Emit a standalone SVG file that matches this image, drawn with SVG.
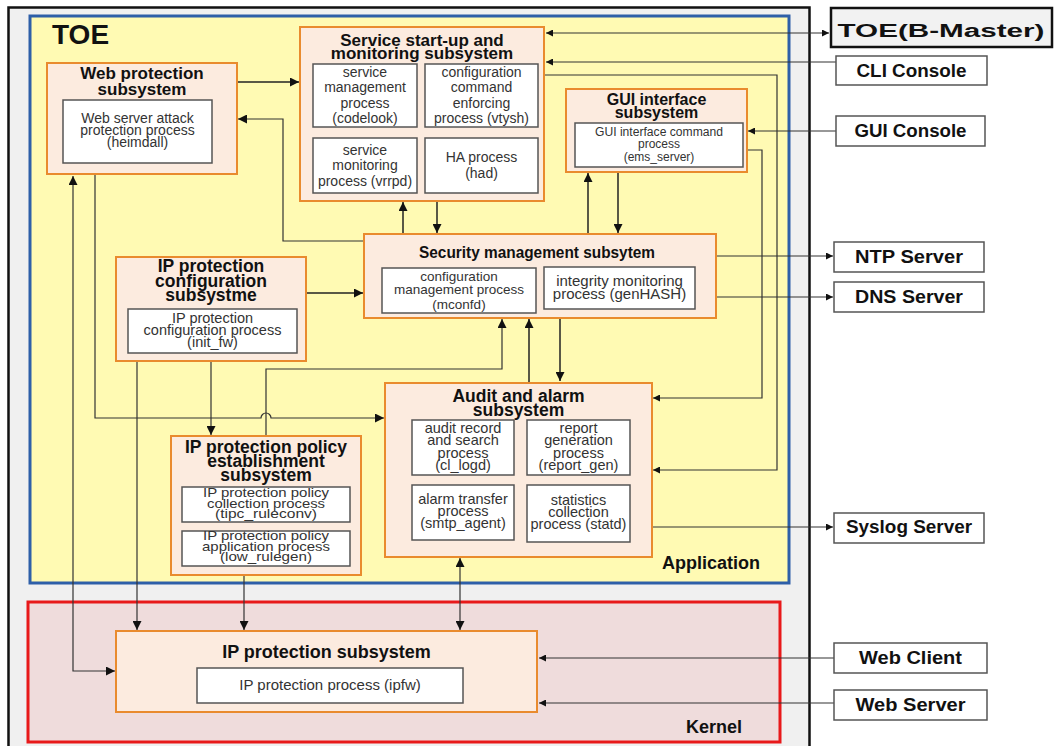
<svg xmlns="http://www.w3.org/2000/svg" width="1058" height="746" viewBox="0 0 1058 746">
<defs>
<style>
.node{fill:#fcebdf;stroke:#e98b2e;stroke-width:2}
.inner{fill:#fff;stroke:#555;stroke-width:1.5}
.ext{fill:#fff;stroke:#555;stroke-width:1.5}
.t{font-family:"Liberation Sans",Arial,sans-serif;font-weight:bold;fill:#111;text-anchor:middle}
.p{font-family:"Liberation Sans",Arial,sans-serif;fill:#333;text-anchor:middle}
.e{font-family:"Liberation Sans",Arial,sans-serif;font-weight:bold;fill:#111;text-anchor:middle;font-size:18px}
.lbl{font-family:"Liberation Sans",Arial,sans-serif;font-weight:bold;fill:#111}
.c{fill:none;stroke:#222;stroke-width:1.5}
.cx{fill:none;stroke:#333;stroke-width:1.2}
</style>
<marker id="ah" viewBox="0 0 10 10" refX="10" refY="5" markerWidth="11" markerHeight="9" markerUnits="userSpaceOnUse" orient="auto-start-reverse"><path d="M0,0 L10,5 L0,10 z" fill="#111"/></marker>
<marker id="as" viewBox="0 0 10 10" refX="10" refY="5" markerWidth="9" markerHeight="7" markerUnits="userSpaceOnUse" orient="auto-start-reverse"><path d="M0,0 L10,5 L0,10 z" fill="#111"/></marker>
</defs>
<rect width="1058" height="746" fill="#fff"/>
<g id="toe-frame">
<rect x="8.5" y="7.5" width="801" height="750" fill="#f0f0f0" stroke="#111" stroke-width="2.5"/>
<rect x="30" y="16" width="759" height="567" fill="#fffab3" stroke="#2e5fa8" stroke-width="3"/>
<rect x="28" y="602" width="752" height="140" fill="#efdcdc" stroke="#e8191a" stroke-width="3"/>
<text class="lbl" x="52" y="44" font-size="28">TOE</text>
<text class="lbl" x="662" y="569" font-size="18">Application</text>
<text class="lbl" x="686" y="733" font-size="18">Kernel</text>
</g>
<g id="connectors">
<path class="cx" d="M546,33 H829" marker-start="url(#as)" marker-end="url(#as)"/>
<path class="cx" d="M836,62 H546" marker-end="url(#as)"/>
<path class="cx" d="M544,75 H777 V470 H653" marker-end="url(#as)"/>
<path class="cx" d="M747,150 H762 V398 H653" marker-end="url(#as)"/>
<path class="cx" d="M836,131 H748" marker-end="url(#as)"/>
<path class="c" d="M237,82 H299" marker-end="url(#ah)"/>
<path class="cx" d="M364,241 H283 V119 H238" marker-end="url(#ah)"/>
<path class="c" d="M403,234 V202" marker-end="url(#ah)"/>
<path class="c" d="M437,202 V233" marker-end="url(#ah)"/>
<path class="c" d="M588,234 V173" marker-end="url(#ah)"/>
<path class="c" d="M618,172 V233" marker-end="url(#ah)"/>
<path class="cx" d="M716,256 H833" marker-end="url(#as)"/>
<path class="cx" d="M716,297 H833" marker-end="url(#as)"/>
<path class="c" d="M560,318 V381" marker-end="url(#ah)"/>
<path class="c" d="M529,383 V319" marker-end="url(#ah)"/>
<path class="cx" d="M266,436 V369 H502 V319" marker-end="url(#ah)"/>
<path class="c" d="M307,293 H363" marker-end="url(#ah)"/>
<path class="cx" d="M95,175 V418 H261 A5,5 0 0 1 271,418 H384" marker-end="url(#ah)"/>
<path class="cx" d="M73,176 V671 H115" marker-start="url(#ah)" marker-end="url(#ah)"/>
<path class="cx" d="M137,361 V630" marker-end="url(#ah)"/>
<path class="cx" d="M211,361 V435" marker-end="url(#ah)"/>
<path class="cx" d="M244,575 V630" marker-end="url(#ah)"/>
<path class="cx" d="M460,558 V630" marker-start="url(#ah)" marker-end="url(#ah)"/>
<path class="cx" d="M652,527 H833" marker-end="url(#as)"/>
<path class="cx" d="M834,658 H539" marker-end="url(#as)"/>
<path class="cx" d="M834,703 H539" marker-end="url(#as)"/>
</g>
<g id="web-protection">
<rect class="node" x="47" y="63" width="190" height="111"/>
<text class="t" x="142" y="79" font-size="17">Web protection</text>
<text class="t" x="142" y="95" font-size="17">subsystem</text>
<rect class="inner" x="63" y="100" width="149" height="63"/>
<text class="p" x="137.5" y="123" font-size="14">Web server attack</text>
<text class="p" x="137.5" y="135" font-size="14">protection process</text>
<text class="p" x="137.5" y="147" font-size="14">(heimdall)</text>
</g>
<g id="service-startup">
<rect class="node" x="300" y="27" width="244" height="174"/>
<text class="t" x="422" y="46" font-size="17">Service start-up and</text>
<text class="t" x="422" y="59" font-size="17">monitoring subsystem</text>
<rect class="inner" x="313" y="64" width="104" height="63"/>
<text class="p" x="365" y="77" font-size="14">service</text>
<text class="p" x="365" y="92" font-size="14">management</text>
<text class="p" x="365" y="108" font-size="14">process</text>
<text class="p" x="365" y="123" font-size="14">(codelook)</text>
<rect class="inner" x="425" y="64" width="113" height="63"/>
<text class="p" x="481.5" y="77" font-size="14">configuration</text>
<text class="p" x="481.5" y="92" font-size="14">command</text>
<text class="p" x="481.5" y="108" font-size="14">enforcing</text>
<text class="p" x="481.5" y="123" font-size="14">process (vtysh)</text>
<rect class="inner" x="313" y="138" width="104" height="55"/>
<text class="p" x="365" y="155" font-size="14">service</text>
<text class="p" x="365" y="170" font-size="14">monitoring</text>
<text class="p" x="365" y="186" font-size="14">process (vrrpd)</text>
<rect class="inner" x="425" y="138" width="113" height="55"/>
<text class="p" x="481.5" y="162" font-size="14">HA process</text>
<text class="p" x="481.5" y="178" font-size="14">(had)</text>
</g>
<g id="gui-interface">
<rect class="node" x="566" y="89" width="181" height="83"/>
<text class="t" x="656.5" y="105" font-size="16">GUI interface</text>
<text class="t" x="656.5" y="118" font-size="16">subsystem</text>
<rect class="inner" x="575" y="123" width="168" height="44"/>
<text class="p" x="659" y="136" font-size="12" textLength="128" lengthAdjust="spacingAndGlyphs">GUI interface command</text>
<text class="p" x="659" y="148" font-size="12">process</text>
<text class="p" x="659" y="161" font-size="12">(ems_server)</text>
</g>
<g id="security-management">
<rect class="node" x="364" y="234" width="352" height="84"/>
<text class="t" x="537" y="258" font-size="16" textLength="236" lengthAdjust="spacingAndGlyphs">Security management subsytem</text>
<rect class="inner" x="382" y="268" width="154" height="45"/>
<text class="p" x="459" y="281" font-size="13.5">configuration</text>
<text class="p" x="459" y="294" font-size="13.5">management process</text>
<text class="p" x="459" y="309" font-size="13.5">(mconfd)</text>
<rect class="inner" x="544" y="267" width="151" height="42"/>
<text class="p" x="619.5" y="286" font-size="15">integrity monitoring</text>
<text class="p" x="619.5" y="299" font-size="15">process (genHASH)</text>
</g>
<g id="ip-config">
<rect class="node" x="116" y="257" width="190" height="104"/>
<text class="t" x="211" y="272" font-size="17.5">IP protection</text>
<text class="t" x="211" y="287" font-size="17.5">configuration</text>
<text class="t" x="211" y="301" font-size="17.5">subsystme</text>
<rect class="inner" x="128" y="309" width="169" height="44"/>
<text class="p" x="212.5" y="323" font-size="14.5">IP protection</text>
<text class="p" x="212.5" y="335" font-size="14.5">configuration process</text>
<text class="p" x="212.5" y="347" font-size="14.5">(init_fw)</text>
</g>
<g id="ip-policy">
<rect class="node" x="171" y="436" width="190" height="139"/>
<text class="t" x="266" y="453" font-size="17.5">IP protection policy</text>
<text class="t" x="266" y="467" font-size="17.5">establishment</text>
<text class="t" x="266" y="481" font-size="17.5">subsystem</text>
<rect class="inner" x="182" y="487" width="168" height="35"/>
<text class="p" x="266" y="497" font-size="13" textLength="126" lengthAdjust="spacingAndGlyphs">IP protection policy</text>
<text class="p" x="266" y="507.5" font-size="13" textLength="118" lengthAdjust="spacingAndGlyphs">collection process</text>
<text class="p" x="266" y="518" font-size="13" textLength="102" lengthAdjust="spacingAndGlyphs">(tipc_ruleconv)</text>
<rect class="inner" x="182" y="531" width="168" height="35"/>
<text class="p" x="266" y="540" font-size="13" textLength="126" lengthAdjust="spacingAndGlyphs">IP protection policy</text>
<text class="p" x="266" y="550.5" font-size="13" textLength="128" lengthAdjust="spacingAndGlyphs">application process</text>
<text class="p" x="266" y="561" font-size="13" textLength="92" lengthAdjust="spacingAndGlyphs">(low_rulegen)</text>
</g>
<g id="audit-alarm">
<rect class="node" x="385" y="383" width="267" height="174"/>
<text class="t" x="518.5" y="402" font-size="17.5">Audit and alarm</text>
<text class="t" x="518.5" y="416" font-size="17.5">subsystem</text>
<rect class="inner" x="412" y="420" width="102" height="55"/>
<text class="p" x="463" y="433" font-size="14.5">audit record</text>
<text class="p" x="463" y="445" font-size="14.5">and search</text>
<text class="p" x="463" y="458" font-size="14.5">process</text>
<text class="p" x="463" y="470" font-size="14.5">(cl_logd)</text>
<rect class="inner" x="527" y="420" width="103" height="55"/>
<text class="p" x="578.5" y="433" font-size="14.5">report</text>
<text class="p" x="578.5" y="445" font-size="14.5">generation</text>
<text class="p" x="578.5" y="458" font-size="14.5">process</text>
<text class="p" x="578.5" y="470" font-size="14.5">(report_gen)</text>
<rect class="inner" x="412" y="485" width="102" height="55"/>
<text class="p" x="463" y="504" font-size="14.5">alarm transfer</text>
<text class="p" x="463" y="516" font-size="14.5">process</text>
<text class="p" x="463" y="528" font-size="14.5">(smtp_agent)</text>
<rect class="inner" x="527" y="485" width="103" height="57"/>
<text class="p" x="578.5" y="505" font-size="14.5">statistics</text>
<text class="p" x="578.5" y="517" font-size="14.5">collection</text>
<text class="p" x="578.5" y="529" font-size="14.5">process (statd)</text>
</g>
<g id="ip-protection">
<rect class="node" x="116" y="631" width="421" height="81"/>
<text class="t" x="326.5" y="658" font-size="18">IP protection subsystem</text>
<rect class="inner" x="197" y="668" width="266" height="35"/>
<text class="p" x="330" y="690" font-size="15">IP protection process (ipfw)</text>
</g>
<g id="toe-b-master">
<rect x="831" y="8" width="221" height="39" fill="#f2f2f2" stroke="#111" stroke-width="2.5"/>
<text class="e" x="941" y="37" font-size="27" textLength="207" lengthAdjust="spacingAndGlyphs">TOE(B-Master)</text>
</g>
<g id="cli-console">
<rect class="ext" x="836" y="56" width="151" height="29"/>
<text class="e" x="911.5" y="77" textLength="110" lengthAdjust="spacingAndGlyphs">CLI Console</text>
</g>
<g id="gui-console">
<rect class="ext" x="836" y="116" width="149" height="30"/>
<text class="e" x="910.5" y="137" textLength="112" lengthAdjust="spacingAndGlyphs">GUI Console</text>
</g>
<g id="ntp-server">
<rect class="ext" x="834" y="242" width="150" height="30"/>
<text class="e" x="909" y="263" textLength="108" lengthAdjust="spacingAndGlyphs">NTP Server</text>
</g>
<g id="dns-server">
<rect class="ext" x="834" y="282" width="150" height="30"/>
<text class="e" x="909" y="303" textLength="108" lengthAdjust="spacingAndGlyphs">DNS Server</text>
</g>
<g id="syslog-server">
<rect class="ext" x="834" y="513" width="150" height="30"/>
<text class="e" x="909" y="533" textLength="126" lengthAdjust="spacingAndGlyphs">Syslog Server</text>
</g>
<g id="web-client">
<rect class="ext" x="834" y="643" width="153" height="30"/>
<text class="e" x="910.5" y="664" textLength="103" lengthAdjust="spacingAndGlyphs">Web Client</text>
</g>
<g id="web-server">
<rect class="ext" x="834" y="690" width="153" height="30"/>
<text class="e" x="910.5" y="711" textLength="110" lengthAdjust="spacingAndGlyphs">Web Server</text>
</g>
</svg>
